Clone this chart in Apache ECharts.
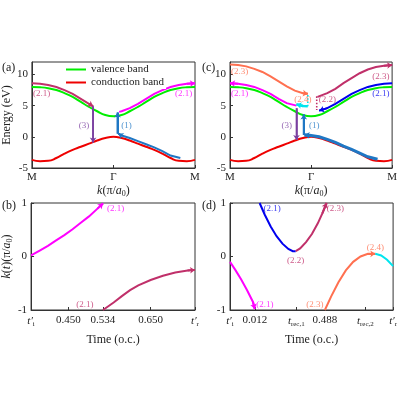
<!DOCTYPE html>
<html lang="en">
<head>
<meta charset="UTF-8">
<script src="https://cdn.jsdelivr.net/npm/echarts@6/dist/echarts.min.js"></script>
<style>html,body{margin:0;padding:0;background:#fff}#c{width:400px;height:400px}</style>
</head>
<body>
<div id="c"></div>
<script>
// band structure (panels a, c), k in units of pi/a0
const kGrid = [-1,-0.9,-0.8,-0.7,-0.6,-0.5,-0.4,-0.3,-0.2,-0.1,0,0.1,0.2,0.3,0.4,0.5,0.6,0.7,0.8,0.9,1];
const valence = [8.0,7.95,7.8,7.5,7.0,6.4,5.6,4.8,4.1,3.5,3.3,3.5,4.1,4.8,5.6,6.4,7.0,7.5,7.8,7.95,8.0];
const conduction = [-3.7,-3.9,-3.85,-3.4,-2.7,-2.1,-1.6,-1.1,-0.6,-0.2,0,-0.2,-0.6,-1.1,-1.6,-2.1,-2.7,-3.4,-3.85,-3.9,-3.7];

// panel (a) trajectories [k, E]
const aBlue = [[0.82,-3.4],[0.7,-3.0],[0.6,-2.3],[0.5,-1.7],[0.4,-1.2],[0.3,-0.7],[0.2,-0.2],[0.1,0.2],[0.06,0.5]];
const aBlueJump = [[0.05,0.5],[0.05,3.9]];
const aMagenta = [[0.07,4.0],[0.1,4.1],[0.2,4.6],[0.3,5.3],[0.4,6.1],[0.5,6.9],[0.6,7.5],[0.7,8.0],[0.8,8.3],[0.9,8.5],[1,8.6]];
const aMaroon = [[-1,8.6],[-0.9,8.5],[-0.8,8.3],[-0.7,8.0],[-0.6,7.5],[-0.5,6.9],[-0.4,6.1],[-0.3,5.3],[-0.25,4.9]];
const aPurple = [[-0.25,4.9],[-0.25,-0.9]];

// panel (c) trajectories
const cBlue1 = [[0.82,-3.6],[0.7,-3.2],[0.6,-2.6],[0.5,-2.0],[0.4,-1.5],[0.3,-0.9],[0.2,-0.4],[0.1,0],[0,0.2],[-0.08,0.3]];
const cBlueJump = [[-0.09,0.3],[-0.09,3.6]];
const cMagenta = [[-0.18,5.0],[-0.3,5.4],[-0.4,6.1],[-0.5,6.9],[-0.6,7.5],[-0.7,8.0],[-0.8,8.3],[-0.9,8.5],[-1,8.6]];
const cPurple = [[-0.18,4.6],[-0.18,-0.5]];
const cCyan = [[-0.04,4.9],[-0.1,4.95],[-0.18,5.2]];
const cCyanDot = [[-0.04,4.9],[-0.04,6.8]];
const cOrange = [[-1,11.6],[-0.9,11.5],[-0.8,11.3],[-0.7,10.9],[-0.6,10.4],[-0.5,9.7],[-0.4,8.9],[-0.3,8.1],[-0.2,7.4],[-0.1,7.0],[-0.04,6.9]];
const cMaroon = [[0.08,6.4],[0.2,7.0],[0.3,7.7],[0.4,8.6],[0.5,9.4],[0.6,10.2],[0.7,10.8],[0.8,11.2],[0.9,11.4],[1,11.5]];
const cMaroonDot = [[0.07,6.5],[0.07,4.3]];
const cBlue21 = [[1,8.6],[0.9,8.5],[0.8,8.3],[0.7,8.0],[0.6,7.5],[0.5,6.9],[0.4,6.1],[0.3,5.3],[0.2,4.6],[0.1,4.2]];

// panel (b): time (o.c.), k(t)
const bMagenta = [[0.359,0.02],[0.38,0.11],[0.40,0.2],[0.42,0.3],[0.44,0.4],[0.46,0.51],[0.48,0.63],[0.50,0.75],[0.52,0.89],[0.534,0.99]];
const bMaroon = [[0.534,-1],[0.56,-0.86],[0.58,-0.74],[0.60,-0.63],[0.62,-0.54],[0.65,-0.44],[0.68,-0.36],[0.71,-0.3],[0.74,-0.26],[0.758,-0.25]];
const bTicks = [0.359,0.450,0.534,0.650,0.758];
const bTickLabels = ['{t|t′}{s|i}','0.450','0.534','0.650','{t|t′}{s|r}'];

// panel (d)
const dMagenta = [[-0.156,-0.1],[-0.12,-0.25],[-0.08,-0.43],[-0.04,-0.63],[0,-0.85],[0.012,-0.98]];
const dBlue = [[0.045,1.0],[0.08,0.78],[0.12,0.56],[0.16,0.38],[0.2,0.24],[0.24,0.14],[0.27,0.1],[0.29,0.1]];
const dMaroon = [[0.29,0.1],[0.32,0.15],[0.36,0.27],[0.4,0.42],[0.44,0.62],[0.47,0.8],[0.5,1.0]];
const dOrange = [[0.488,-1],[0.53,-0.75],[0.58,-0.48],[0.63,-0.26],[0.68,-0.1],[0.73,0],[0.78,0.05],[0.83,0.05]];
const dCyan = [[0.83,0.05],[0.87,0.02],[0.91,-0.06],[0.951,-0.18]];
const dTicks = [-0.156,0.012,0.294,0.488,0.763,0.951];
const dTickLabels = ['{t|t′}{s|i}','0.012','{t|t}{s|rec,1}','0.488','{t|t}{s|rec,2}','{t|t′}{s|r}'];

// text labels [x, y, text, colour]
const aLabels = [[-0.88,6.9,'(2.1)','#c0306a'],[0.86,6.9,'(2.1)','#ff00ff'],[-0.36,1.8,'(3)','#7a3fa0'],[0.16,1.8,'(1)','#1f77c4']];
const cLabels = [[-0.88,10.4,'(2.3)','#ff7050'],[-0.88,6.9,'(2.1)','#ff00ff'],[-0.1,6.0,'(2.4)','#ff7050'],[0.2,6.0,'(2.2)','#c0306a'],
  [0.86,9.7,'(2.3)','#c0306a'],[0.86,6.9,'(2.1)','#0000ee'],[-0.3,1.8,'(3)','#7a3fa0'],[0.04,1.8,'(1)','#1f77c4']];
const bLabels = [[0.565,0.9,'(2.1)','#ff00ff'],[0.49,-0.9,'(2.1)','#c0306a']];
const dLabels = [[0.13,0.9,'(2.1)','#0000ee'],[0.29,-0.07,'(2.2)','#c0306a'],[0.56,0.9,'(2.3)','#c0306a'],
  [0.08,-0.9,'(2.1)','#ff00ff'],[0.42,-0.9,'(2.3)','#ff7050'],[0.83,0.17,'(2.4)','#ff7050']];

const FONT = 'Liberation Serif';
const subRich = {t:{fontFamily:FONT,fontStyle:'italic',fontSize:11,color:'#222'},s:{fontFamily:FONT,fontSize:7,color:'#222',verticalAlign:'bottom',padding:[6,0,0,0]}};

const grids = [
  {left:30, top:62, width:165, height:106},
  {left:230, top:62, width:165, height:106},
  {left:30, top:203, width:165, height:107},
  {left:230, top:203, width:165, height:107}
].map(g => Object.assign({show:true, borderColor:'#333', borderWidth:1, backgroundColor:'transparent'}, g));

const kNameRich = {k:{fontFamily:FONT,fontStyle:'italic',fontSize:12,color:'#222'},n:{fontFamily:FONT,fontSize:12,color:'#222'},s:{fontFamily:FONT,fontSize:8,color:'#222',verticalAlign:'bottom',padding:[6,0,0,0]}};
const axLine = {onZero:false, lineStyle:{color:'#333'}};
function kAxis(i){
  return {type:'value', gridIndex:i, min:-1, max:1, interval:1,
    axisLine:axLine, axisTick:{inside:true,length:3}, splitLine:{show:false},
    axisLabel:{fontFamily:FONT,fontSize:11,color:'#222',margin:4,formatter:v=>v===0?'Γ':'M'},
    name:'{k|k}{n|(π/}{k|a}{s|0}{n|)}', nameLocation:'middle', nameGap:16, nameTextStyle:{rich:kNameRich}};
}
function tAxis(i, mn, mx, ticks, labels){
  return {type:'value', gridIndex:i, min:mn, max:mx,
    axisLine:axLine, axisTick:{inside:true,length:3,customValues:ticks}, splitLine:{show:false},
    axisLabel:{customValues:ticks, margin:5, fontFamily:FONT, fontSize:11, color:'#222',
      formatter:v=>{const j=ticks.findIndex(t=>Math.abs(t-v)<1e-6); return j<0?'':labels[j];}, rich:subRich},
    name:'Time (o.c.)', nameLocation:'middle', nameGap:24, nameTextStyle:{fontFamily:FONT,fontSize:12,color:'#222'}};
}
function eAxis(i, withName){
  return {type:'value', gridIndex:i, min:-5, max:12, interval:5,
    axisLine:axLine, axisTick:{inside:true,length:3}, splitLine:{show:false},
    axisLabel:{fontFamily:FONT,fontSize:11,color:'#222',margin:4,showMaxLabel:false},
    name: withName ? 'Energy (eV)' : '', nameLocation:'middle', nameGap:18, nameTextStyle:{fontFamily:FONT,fontSize:12,color:'#222'}};
}
function kyAxis(i, withName){
  return {type:'value', gridIndex:i, min:-1, max:1, interval:1,
    axisLine:axLine, axisTick:{inside:true,length:3}, splitLine:{show:false},
    axisLabel:{fontFamily:FONT,fontSize:11,color:'#222',margin:4},
    name: withName ? '{k|k}{n|(}{k|t}{n|)(π/}{k|a}{s|0}{n|)}' : '', nameLocation:'middle', nameGap:14, nameTextStyle:{rich:kNameRich}};
}

function band(name, ys, color, gi){
  return {type:'line', name, xAxisIndex:gi, yAxisIndex:gi, data:kGrid.map((k,i)=>[k,ys[i]]),
    smooth:true, symbol:'none', lineStyle:{color, width:2}, itemStyle:{color}, z:2};
}
// polyline for the body, a single straight segment at the end carries the arrowhead
function path(coords, color, gi, opts){
  opts = opts || {};
  const ls = {color, width:opts.width||1.6, type:opts.type||'solid', opacity:1};
  const out = [{type:'lines', coordinateSystem:'cartesian2d', xAxisIndex:gi, yAxisIndex:gi, polyline:true,
    lineStyle:ls, data:[{coords}], z:3, silent:true}];
  if (!opts.noArrow) {
    out.push({type:'lines', coordinateSystem:'cartesian2d', xAxisIndex:gi, yAxisIndex:gi,
      symbol:['none','arrow'], symbolSize:5, lineStyle:ls,
      data:[{coords:coords.slice(-2)}], z:3, silent:true});
  }
  return out;
}
function labels(list, gi){
  return {type:'scatter', xAxisIndex:gi, yAxisIndex:gi, symbolSize:0, silent:true, z:4,
    data:list.map(l=>({value:[l[0],l[1]], label:{show:true, formatter:l[2], color:l[3], fontFamily:FONT, fontSize:9, position:'inside'}}))};
}

const chart = echarts.init(document.getElementById('c'));
chart.setOption({
  animation:false,
  grid:grids,
  xAxis:[kAxis(0), kAxis(1), tAxis(2,0.359,0.758,bTicks,bTickLabels), tAxis(3,-0.156,0.951,dTicks,dTickLabels)],
  yAxis:[eAxis(0,true), eAxis(1,false), kyAxis(2,true), kyAxis(3,false)],
  legend:{data:['valence band','conduction band'], orient:'vertical', left:64, top:63, itemWidth:20, itemHeight:2, itemGap:2,
    icon:'rect', textStyle:{fontFamily:FONT,fontSize:11,color:'#222'}, backgroundColor:'#fff', padding:[1,2]},
  graphic:[
    {type:'text', left:2, top:62, style:{text:'(a)', font:'12px "Liberation Serif"', fill:'#222'}},
    {type:'text', left:202, top:62, style:{text:'(c)', font:'12px "Liberation Serif"', fill:'#222'}},
    {type:'text', left:2, top:200, style:{text:'(b)', font:'12px "Liberation Serif"', fill:'#222'}},
    {type:'text', left:202, top:200, style:{text:'(d)', font:'12px "Liberation Serif"', fill:'#222'}}
  ],
  series:[
    band('valence band', valence, '#00ee00', 0),
    band('conduction band', conduction, '#ee0000', 0),
    band('valence band', valence, '#00ee00', 1),
    band('conduction band', conduction, '#ee0000', 1),
    ...path(aBlue,'#1f77c4',0,{width:2}), ...path(aBlueJump,'#1f77c4',0,{width:2}),
    ...path(aMagenta,'#ff00ff',0,{width:2}), ...path(aMaroon,'#c0306a',0,{width:2}), ...path(aPurple,'#7a3fa0',0),
    labels(aLabels,0),
    ...path(cBlue1,'#1f77c4',1,{width:3}), ...path(cBlueJump,'#1f77c4',1,{width:2}),
    ...path(cMagenta,'#ff00ff',1,{width:2}), ...path(cPurple,'#7a3fa0',1),
    ...path(cCyan,'#00e5ee',1,{width:2.5}), ...path(cCyanDot,'#00e5ee',1,{type:'dotted',width:1.6,noArrow:true}),
    ...path(cOrange,'#ff7050',1,{width:2}), ...path(cMaroon,'#c0306a',1,{width:2}),
    ...path(cMaroonDot,'#c0306a',1,{type:'dotted',width:1.6,noArrow:true}),
    ...path(cBlue21,'#0000ee',1,{width:2}),
    labels(cLabels,1),
    ...path(bMagenta,'#ff00ff',2,{width:2}), ...path(bMaroon,'#c0306a',2,{width:2}),
    labels(bLabels,2),
    ...path(dMagenta,'#ff00ff',3,{width:2}), ...path(dBlue,'#0000ee',3,{width:2,noArrow:true}),
    ...path(dMaroon,'#c0306a',3,{width:2}), ...path(dOrange,'#ff7050',3,{width:2}),
    ...path(dCyan,'#00e5ee',3,{width:2,noArrow:true}),
    labels(dLabels,3)
  ]
});
</script>
</body>
</html>
